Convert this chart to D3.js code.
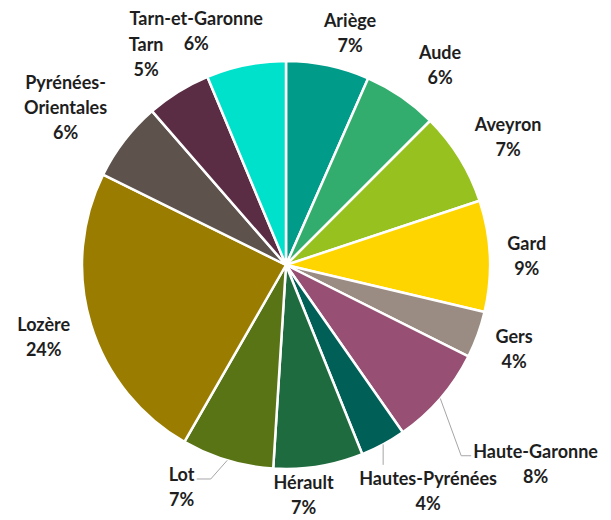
<!DOCTYPE html>
<html>
<head>
<meta charset="utf-8">
<script src="https://cdn.jsdelivr.net/npm/d3@7"></script>
<style>
  body { margin: 0; background: #fff; }
  text { font-family: Lato, "Open Sans", sans-serif; font-weight: 700; fill: #1e1e1e; }
</style>
</head>
<body>
<svg id="chart"></svg>
<script>
// departments, clockwise from 12 o'clock
const departments = ["Ariège", "Aude", "Aveyron", "Gard", "Gers", "Haute-Garonne",
  "Hautes-Pyrénées", "Hérault", "Lot", "Lozère", "Pyrénées-Orientales", "Tarn", "Tarn-et-Garonne"]
// shares in %
const shares = [6.6, 5.9, 7.4, 8.8, 3.7, 7.9, 3.6, 7.1, 7.3, 24.0, 6.3, 5.1, 6.3]
const colors = ["#009B89", "#33AD6D", "#96C11F", "#FFD500", "#9A8C82", "#974F73",
  "#005F56", "#1F6B40", "#587415", "#9A7D00", "#5D534C", "#5A2D45", "#00E1CB"]

const width = 611, height = 520
const cx = 286, cy = 265, radius = 204, labelRadius = 248
// manual label nudges (like dragged labels in the original)
const nudges = {
  "Ariège": [13, 11], "Aude": [14, 5], "Aveyron": [11, 2], "Gard": [-7, 2],
  "Gers": [-5, -1], "Haute-Garonne": [62, 37], "Hautes-Pyrénées": [24, 8],
  "Hérault": [-22, -15], "Lot": [-33, -15], "Lozère": [-5, 0],
  "Pyrénées-Orientales": [-24, -6], "Tarn": [-9, 3], "Tarn-et-Garonne": [-41, 9]
}
// label line breaks
const labelLines = { "Pyrénées-Orientales": ["Pyrénées-", "Orientales"] }

const data = departments.map((d, i) => ({ name: d, value: shares[i], color: colors[i] }))
const total = d3.sum(shares)
const pctFormat = (v) => Math.round((v / total) * 100) + "%"

const svg = d3.select("#chart").attr("width", width).attr("height", height)
const g = svg.append("g").attr("transform", `translate(${cx}, ${cy})`)

const pie = d3.pie().sort(null).value((d) => d.value)
const arc = d3.arc().innerRadius(0).outerRadius(radius)
const outerArc = d3.arc().innerRadius(radius).outerRadius(radius)
const labelArc = d3.arc().innerRadius(labelRadius).outerRadius(labelRadius)

const arcs = pie(data)

// slices
g.selectAll(".slice")
  .data(arcs)
  .join("path")
  .attr("class", "slice")
  .attr("d", arc)
  .attr("fill", (d) => d.data.color)
  .attr("stroke", "#fff")
  .attr("stroke-width", 2.5)
  .attr("stroke-linejoin", "round")

// labels
const lineHeight = 25
const labels = g.selectAll(".label")
  .data(arcs)
  .join("text")
  .attr("class", "label")
  .attr("text-anchor", "middle")
  .attr("font-size", 18)
  .each(function (d) {
    const [x, y] = labelArc.centroid(d)
    const [nx, ny] = nudges[d.data.name] || [0, 0]
    const lines = (labelLines[d.data.name] || [d.data.name]).concat([pctFormat(d.value)])
    const top = y + ny - ((lines.length - 1) * lineHeight) / 2
    d.labelTop = top
    d3.select(this)
      .selectAll("tspan")
      .data(lines)
      .join("tspan")
      .attr("x", x + nx)
      .attr("y", (l, i) => top + i * lineHeight)
      .attr("dy", "0.35em")
      .text((l) => l)
  })

// leader lines for the labels pulled away from their slices
const leaders = g.append("g").attr("fill", "none").attr("stroke", "#a6a6a6").attr("stroke-width", 1)
labels.each(function (d) {
  const name = d.data.name
  if (!["Haute-Garonne", "Hautes-Pyrénées", "Lot"].includes(name)) return
  const box = this.getBBox()
  const start = outerArc.centroid(d)
  let pts
  if (name === "Haute-Garonne") {
    const end = [box.x - 2, d.labelTop + 4]
    pts = [start, [end[0] - 10, end[1]], end]
  } else if (name === "Lot") {
    const end = [box.x + box.width + 2, d.labelTop + 4]
    pts = [start, [end[0] + 14, end[1]], end]
  } else {
    pts = [start, [start[0], box.y - 2]]
  }
  leaders.append("path").attr("d", d3.line()(pts))
})
</script>
</body>
</html>
